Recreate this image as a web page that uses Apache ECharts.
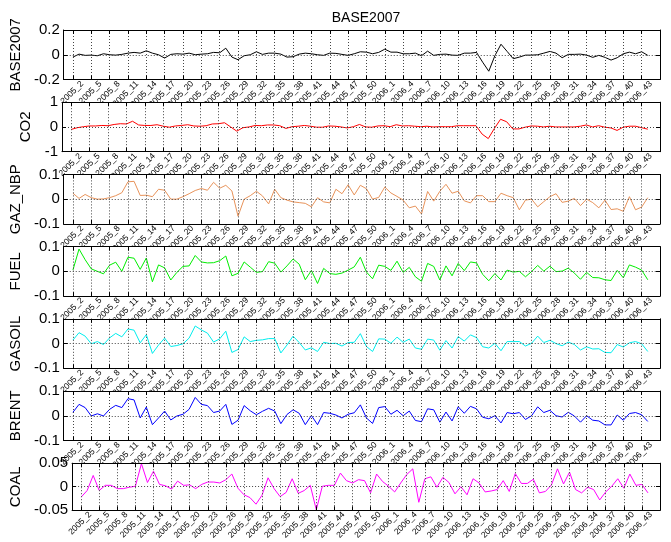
<!DOCTYPE html>
<html><head><meta charset="utf-8">
<script src="https://cdn.jsdelivr.net/npm/echarts@6/dist/echarts.min.js"></script>
<style>html,body{margin:0;padding:0;background:#fff}#c{width:671px;height:542px}</style>
</head><body><div id="c"></div>
<script>
const weeks = ['2005_2','2005_3','2005_4','2005_5','2005_6','2005_7','2005_8','2005_9','2005_10','2005_11',
'2005_12','2005_13','2005_14','2005_15','2005_16','2005_17','2005_18','2005_19','2005_20','2005_21',
'2005_22','2005_23','2005_24','2005_25','2005_26','2005_27','2005_28','2005_29','2005_30','2005_31',
'2005_32','2005_33','2005_34','2005_35','2005_36','2005_37','2005_38','2005_39','2005_40','2005_41',
'2005_42','2005_43','2005_44','2005_45','2005_46','2005_47','2005_48','2005_49','2005_50','2005_51',
'2005_52','2006_1','2006_2','2006_3','2006_4','2006_5','2006_6','2006_7','2006_8','2006_9',
'2006_10','2006_11','2006_12','2006_13','2006_14','2006_15','2006_16','2006_17','2006_18','2006_19',
'2006_20','2006_21','2006_22','2006_23','2006_24','2006_25','2006_26','2006_27','2006_28','2006_29',
'2006_30','2006_31','2006_32','2006_33','2006_34','2006_35','2006_36','2006_37','2006_38','2006_39',
'2006_40','2006_41','2006_42','2006_43','2006_44'];

const tickLabels = ['2005_2','2005_5','2005_8','2005_11','2005_14','2005_17','2005_20','2005_23','2005_26','2005_29',
'2005_32','2005_35','2005_38','2005_41','2005_44','2005_47','2005_50','2006_1','2006_4','2006_7',
'2006_10','2006_13','2006_16','2006_19','2006_22','2006_25','2006_28','2006_31','2006_34','2006_37',
'2006_40','2006_43'];

const base2007 = [-0.019,0.005,-0.005,-0.003,-0.008,0.008,0,-0.003,0.003,0.013,
 0.019,0.013,0.032,0.013,0,-0.027,0.003,0.008,0.005,0.013,
 0,0.005,0.008,0.019,0.016,0.053,-0.019,-0.04,-0.008,0,
 0.024,0.003,0.013,0.013,0.005,-0.019,-0.016,0.005,0.013,0.008,
 0,-0.005,0.013,0.011,0.003,-0.005,0.008,0.024,0.021,0.008,
 0.019,0.045,0.021,0.021,0.008,0.008,0.013,-0.008,0.029,-0.005,
 0.003,0.005,-0.003,-0.005,0.013,0.013,0.019,-0.06,-0.133,-0.008,
 0.085,0.027,-0.032,-0.019,-0.003,-0.003,0,0.013,0.027,0.013,
 -0.024,0.003,0.003,0.005,-0.003,-0.021,-0.005,-0.021,-0.043,-0.024,
 0.008,0.021,0.008,0.024,-0.005];

const co2 = [-0.1,-0.03,0.01,0.04,0.04,0.06,0.05,0.1,0.13,0.12,
 0.23,0.08,0.06,0.06,0.09,0.03,-0.01,0.04,0.06,0.09,
 0.04,0.03,0.05,0.12,0.13,0.17,0,-0.17,-0.03,0,
 0.06,0.05,0.08,0.08,0.05,-0.06,0.01,0.03,0.06,0.03,
 -0.01,-0.01,0.04,0.03,0,-0.04,0.01,0.1,0,-0.01,
 0.04,0.05,0.01,0.09,0.04,0.05,0.03,0.01,0.03,0,
 0.01,0.01,0.01,0.05,0.05,0.05,0.05,-0.29,-0.47,-0.06,
 0.31,0.21,-0.08,-0.08,-0.01,0.04,0.03,0,0.03,0,
 0,0,0,0.03,0.08,0,0.05,-0.01,-0.04,-0.14,
 -0.01,0.03,0.03,-0.03,-0.09];

const gazNbp = [0.024,0.003,0.019,0.006,0,0.001,0.006,0.014,0.026,0.07,
 0.072,0.015,0.016,0.01,0.04,0.036,0,0,0.01,0.022,
 0.035,0.043,0.036,0.068,0.044,0.056,0.033,-0.069,0,0.014,
 0.032,0.013,-0.019,0.04,0.006,-0.004,-0.011,-0.014,-0.017,-0.031,
 0.006,-0.011,-0.015,0.04,0.022,0.058,0.017,0.056,0.042,0,
 0.007,0.049,0.025,0.011,-0.004,-0.035,-0.028,-0.06,0.031,-0.008,
 0.032,0.06,0.024,0.032,-0.007,-0.015,0.014,0.014,-0.01,-0.01,
 0.024,0.014,0.006,-0.043,-0.004,0,-0.031,-0.01,0.01,0.022,
 -0.013,-0.008,0.003,-0.026,0,-0.014,-0.035,-0.004,-0.042,-0.039,
 -0.049,0.01,-0.043,-0.032,0.006];

const fuel = [0.005,0.09,0.047,0.01,0,-0.01,0.025,0.037,0,0.057,
 0.053,0.008,0.054,-0.042,0.026,0.014,-0.035,-0.004,0.02,0.022,
 0.064,0.038,0.034,0.035,0.043,0.062,-0.018,-0.008,0.038,0.017,
 -0.004,-0.001,0.039,0.033,-0.003,0.022,0.05,0.029,-0.034,0.004,
 -0.049,0.012,-0.009,-0.012,-0.007,0.005,0.018,0.057,-0.003,-0.03,
 0.025,0.02,0.004,0.041,-0.004,0.016,-0.022,-0.04,0.032,0.02,
 -0.035,0.022,-0.018,0.032,0.003,0.038,0.034,-0.012,-0.038,-0.009,
 -0.035,0.005,-0.003,0,-0.022,-0.001,0.024,0.001,0.021,-0.001,
 0.001,0.013,-0.007,-0.032,-0.004,-0.025,-0.026,-0.034,-0.037,0.004,
 -0.026,0.026,0.017,0.005,-0.034];

const gasoil = [0.014,0.044,0.03,-0.001,0.008,-0.004,0.023,0.041,0.027,0.059,
 0.054,0.003,0.036,-0.04,-0.006,0.022,-0.012,-0.008,-0.001,0.022,
 0.071,0.055,0.042,0.006,0.019,0.05,-0.036,-0.024,0.027,0.008,
 0.013,0.015,0.02,0.02,-0.038,-0.006,0.03,0.004,-0.026,-0.017,
 -0.032,0.005,0,0.001,-0.01,0.004,0.005,0.04,-0.012,-0.032,
 0.019,0.018,0.001,0.026,0.005,0.018,-0.018,-0.023,0.018,0.014,
 -0.027,0.012,-0.018,0.028,0.01,0.035,0.024,-0.013,-0.018,0.001,
 -0.029,0.008,0.008,0.008,-0.01,0.001,0.03,0.004,0.013,0,
 -0.009,0.006,-0.004,-0.026,-0.013,-0.022,-0.021,-0.036,-0.037,-0.004,
 -0.014,0.003,0.008,-0.001,-0.032];

const brent = [0.014,0.046,0.033,-0.001,0.008,-0.001,0.026,0.042,0.033,0.069,
 0.064,-0.009,0.035,-0.036,-0.009,0.019,-0.017,-0.001,0.006,0.026,
 0.074,0.046,0.041,0.013,0.019,0.046,-0.035,-0.018,0.041,0.02,
 0.004,0.018,0.03,0.019,-0.032,0.005,0.024,0.01,-0.036,0.001,
 -0.036,0.013,0.01,0.003,-0.009,0.006,0.012,0.044,-0.009,-0.031,
 0.033,0.037,0.006,0.022,0,0.019,-0.019,-0.024,0.028,0.024,
 -0.026,0.015,-0.021,0.036,0.01,0.038,0.028,-0.006,-0.012,0,
 -0.029,0.013,0.008,0.013,-0.015,0,0.036,0.013,0.022,0,
 -0.005,0.014,-0.001,-0.026,0,-0.018,-0.021,-0.037,-0.037,0.003,
 -0.018,0.009,0.013,0.004,-0.023];

const coal = [-0.022,-0.008,0.024,-0.008,0.003,0.003,-0.004,-0.004,-0.001,0.001,
 0.049,0.009,0.033,0.005,0.002,-0.005,0.012,0.003,0.004,-0.004,
 0.005,0.01,0.01,0.008,0.015,0.027,-0.003,-0.017,-0.023,-0.037,
 -0.018,0.019,-0.004,-0.021,-0.012,0.017,-0.014,-0.008,0.003,-0.049,
 0.001,0.003,0.003,0.029,0.013,0.008,0.015,0.013,-0.013,0.027,
 0.011,0.001,-0.011,0.008,0.026,0.038,-0.033,0.017,0.021,-0.001,
 0.02,0.009,-0.015,0,-0.017,0.017,0.008,-0.011,-0.009,-0.006,
 0.013,-0.01,0.028,0.007,0.007,0.016,-0.013,-0.01,0.004,0.038,
 0.006,0.031,-0.006,-0.013,-0.001,-0.006,-0.028,-0.011,0.001,0.017,
 -0.003,0.027,0.003,0.005,-0.013];

const panelNames = ['BASE2007','CO2','GAZ_NBP','FUEL','GASOIL','BRENT','COAL'];
const panelSeries = [base2007, co2, gazNbp, fuel, gasoil, brent, coal];
const yLimits = [0.2, 1, 0.1, 0.1, 0.1, 0.1, 0.05];
const colors = ['#000000','#ff0000','#e8935a','#00ee00','#00eeee','#0000ff','#ff00ff'];

const FONT = 'Liberation Sans, Arial, Helvetica, sans-serif';
const LEFT = 62, WIDTH = 598, TOP0 = 30, STEP = 72.2, HEIGHT = 49.5;
const XMIN = -1.5, XMAX = 96;
const tickPos = tickLabels.map(l => weeks.indexOf(l));
const LABEL_SHIFT = 1.5;
const labelPos = tickPos.map(p => p + LABEL_SHIFT);
const gridLine = {show: true, lineStyle: {color: '#444', type: [1, 2], width: 1}};

const grids = [], xAxes = [], yAxes = [], series = [];
panelNames.forEach((name, k) => {
  const zb = 10 * (k + 1);
  grids.push({left: LEFT, width: WIDTH, top: TOP0 + STEP * k, height: HEIGHT,
    show: true, backgroundColor: '#fff', borderWidth: 0, z: zb});
  xAxes.push({type: 'value', gridIndex: k, min: XMIN, max: XMAX, position: 'bottom', z: zb + 2,
    axisLine: {show: true, onZero: false, lineStyle: {color: '#000', width: 1}},
    axisTick: {show: true, inside: true, length: 4, customValues: tickPos, lineStyle: {color: '#000'}},
    axisLabel: {show: true, customValues: labelPos, rotate: 45, fontSize: 8.5, color: '#000',
      fontFamily: FONT, margin: 3, hideOverlap: false,
      formatter: v => weeks[Math.round(v - LABEL_SHIFT)]},
    splitLine: gridLine});
  xAxes.push({type: 'value', gridIndex: k, min: XMIN, max: XMAX, position: 'top', z: zb + 2,
    axisLine: {show: true, onZero: false, lineStyle: {color: '#000', width: 1}},
    axisTick: {show: true, inside: true, length: 4, customValues: tickPos, lineStyle: {color: '#000'}},
    axisLabel: {show: false}, splitLine: {show: false}});
  const L = yLimits[k];
  yAxes.push({type: 'value', gridIndex: k, min: -L, max: L, interval: L, position: 'left', z: zb + 2,
    name: name, nameLocation: 'middle', nameGap: 28,
    nameTextStyle: {fontSize: 15, color: '#000', fontFamily: FONT},
    axisLine: {show: true, onZero: false, lineStyle: {color: '#000', width: 1}},
    axisTick: {show: true, inside: true, length: 4, lineStyle: {color: '#000'}},
    axisLabel: {show: true, fontSize: 15, color: '#000', fontFamily: FONT, margin: 4},
    splitLine: gridLine});
  yAxes.push({type: 'value', gridIndex: k, min: -L, max: L, interval: L, position: 'right', z: zb + 2,
    axisLine: {show: true, onZero: false, lineStyle: {color: '#000', width: 1}},
    axisTick: {show: true, inside: true, length: 4, lineStyle: {color: '#000'}},
    axisLabel: {show: false}, splitLine: {show: false}});
  series.push({type: 'line', xAxisIndex: 2 * k, yAxisIndex: 2 * k, z: zb + 1,
    data: panelSeries[k].map((v, i) => [i, v]), showSymbol: false, symbol: 'none',
    lineStyle: {color: colors[k], width: 1}, itemStyle: {color: colors[k]}});
});

const chart = echarts.init(document.getElementById('c'), null, {renderer: 'canvas'});
chart.setOption({
  animation: false,
  backgroundColor: '#fff',
  textStyle: {fontFamily: FONT},
  title: {text: 'BASE2007', left: 361, top: 6, textAlign: 'center', z: 200,
    textStyle: {fontSize: 14, fontWeight: 'normal', color: '#000', fontFamily: FONT}},
  grid: grids, xAxis: xAxes, yAxis: yAxes, series: series
});
</script></body></html>
